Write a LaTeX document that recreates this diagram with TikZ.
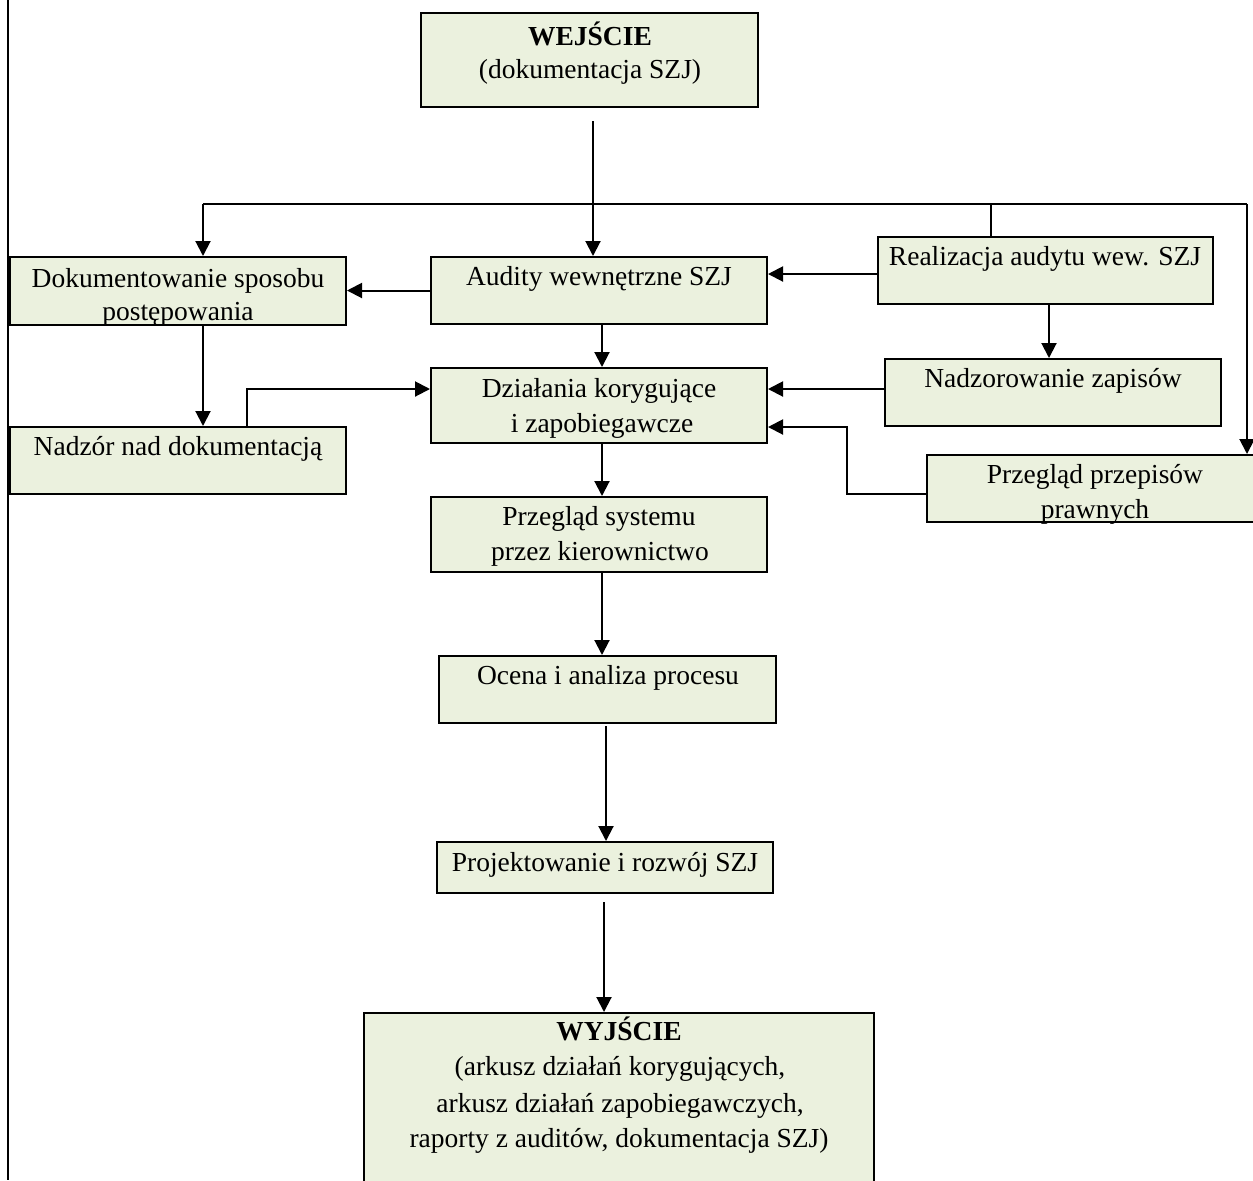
\documentclass[tikz,border=0pt]{standalone}
\usepackage{fontspec}
\setmainfont{Liberation Serif}
\usetikzlibrary{arrows.meta,fit,calc}
\definecolor{boxfill}{HTML}{EBF1DE}
\begin{document}
\begin{tikzpicture}[x=0.5pt,y=-0.5pt,
  box/.style={draw=black, fill=boxfill, line width=1pt, inner sep=0pt, rectangle},
  txt/.style={anchor=base, inner sep=0pt, font=\fontsize{13.75}{17}\selectfont},
  btxt/.style={txt, font=\fontsize{13.75}{17}\selectfont\bfseries},
  conn/.style={draw=black, line width=1pt},
  arr/.style={conn, -{Triangle[length=7.5pt,width=7.5pt]}}]
\useasboundingbox (0,0) rectangle (1253,1180);
\clip (0,0) rectangle (1253,1180);

% boxes
\node[box, fit={(421,13) (758,107)}] (win) {};
\node[box, fit={(10,257) (346,325)}] (dok) {};
\node[box, fit={(431,257) (767,324)}] (aud) {};
\node[box, fit={(878,237) (1213,304)}] (real) {};
\node[box, fit={(885,359) (1221,426)}] (nzap) {};
\node[box, fit={(927,455) (1263,522)}] (pprz) {};
\node[box, fit={(431,368) (767,443)}] (dzk) {};
\node[box, fit={(10,427) (346,494)}] (ndok) {};
\node[box, fit={(431,497) (767,572)}] (psys) {};
\node[box, fit={(439,656) (776,723)}] (ocena) {};
\node[box, fit={(437,842) (773,893)}] (proj) {};
\node[box, fit={(364,1013) (874,1220)}] (wyj) {};

% texts
\node[btxt] (winT1) at (590,45) {WEJŚCIE};
\node[txt] (winT2) at (590,78) {(dokumentacja SZJ)};
\node[txt] (dokT1) at (178,287) {Dokumentowanie sposobu};
\node[txt] (dokT2) at (178,320) {postępowania};
\node[txt] (audT) at (599,285) {Audity wewnętrzne SZJ};
\node[txt] (realT) at (1045,265) {Realizacja audytu wew. SZJ};
\node[txt] (nzapT) at (1053,387) {Nadzorowanie zapisów};
\node[txt] (pprzT1) at (1095,483) {Przegląd przepisów};
\node[txt] (pprzT2) at (1095,518) {prawnych};
\node[txt] (dzkT1) at (599,397) {Działania korygujące};
\node[txt] (dzkT2) at (602,432) {i zapobiegawcze};
\node[txt] (ndokT) at (178,455) {Nadzór nad dokumentacją};
\node[txt] (psysT1) at (599,525) {Przegląd systemu};
\node[txt] (psysT2) at (600,560) {przez kierownictwo};
\node[txt] (ocenaT) at (608,684) {Ocena i analiza procesu};
\node[txt] (projT) at (605,871) {Projektowanie i rozwój SZJ};
\node[btxt] (wyjT1) at (619,1040) {WYJŚCIE};
\node[txt] (wyjT2) at (620,1075) {(arkusz działań korygujących,};
\node[txt] (wyjT3) at (620,1112) {arkusz działań zapobiegawczych,};
\node[txt] (wyjT4) at (619,1147) {raporty z auditów, dokumentacja SZJ)};

% helper coordinates
\coordinate (wStart) at (593,121);
\coordinate (busL) at (203,204);
\coordinate (busM) at (991,204);
\coordinate (busR) at (1247,204);
\coordinate (rn) at (1049,0);
\coordinate (y274) at (0,274);
\coordinate (y389) at (0,389);
\coordinate (y427) at (0,427);
\coordinate (pp) at (847,494);
\coordinate (nd) at (247,389);
\coordinate (mc) at (602,0);
\coordinate (oc) at (606,726);
\coordinate (pc) at (604,902);
\coordinate (lb1) at (8,0);
\coordinate (lb2) at (8,1180);

% connectors
\draw[conn, line width=0.8pt] (lb1) -- (lb2);
\draw[arr] (wStart) -- (wStart |- aud.north);
\draw[conn] (busM |- real.north) -- (busM);
\draw[conn] (busL) -- (busR);
\draw[arr] (busL) -- (busL |- dok.north);
\draw[arr] (busR) -- (busR |- pprz.north);
\draw[arr] (aud.west) -- (aud.west -| dok.east);
\draw[arr] (y274 -| real.west) -- (y274 -| aud.east);
\draw[arr] (rn |- real.south) -- (rn |- nzap.north);
\draw[arr] (y389 -| nzap.west) -- (y389 -| dzk.east);
\draw[arr] (pp -| pprz.west) -- (pp) |- (y427 -| dzk.east);
\draw[arr] (busL |- dok.south) -- (busL |- ndok.north);
\draw[arr] (nd |- ndok.north) -- (nd) -- (nd -| dzk.west);
\draw[arr] (mc |- aud.south) -- (mc |- dzk.north);
\draw[arr] (mc |- dzk.south) -- (mc |- psys.north);
\draw[arr] (mc |- psys.south) -- (mc |- ocena.north);
\draw[arr] (oc) -- (oc |- proj.north);
\draw[arr] (pc) -- (pc |- wyj.north);
\end{tikzpicture}
\end{document}
